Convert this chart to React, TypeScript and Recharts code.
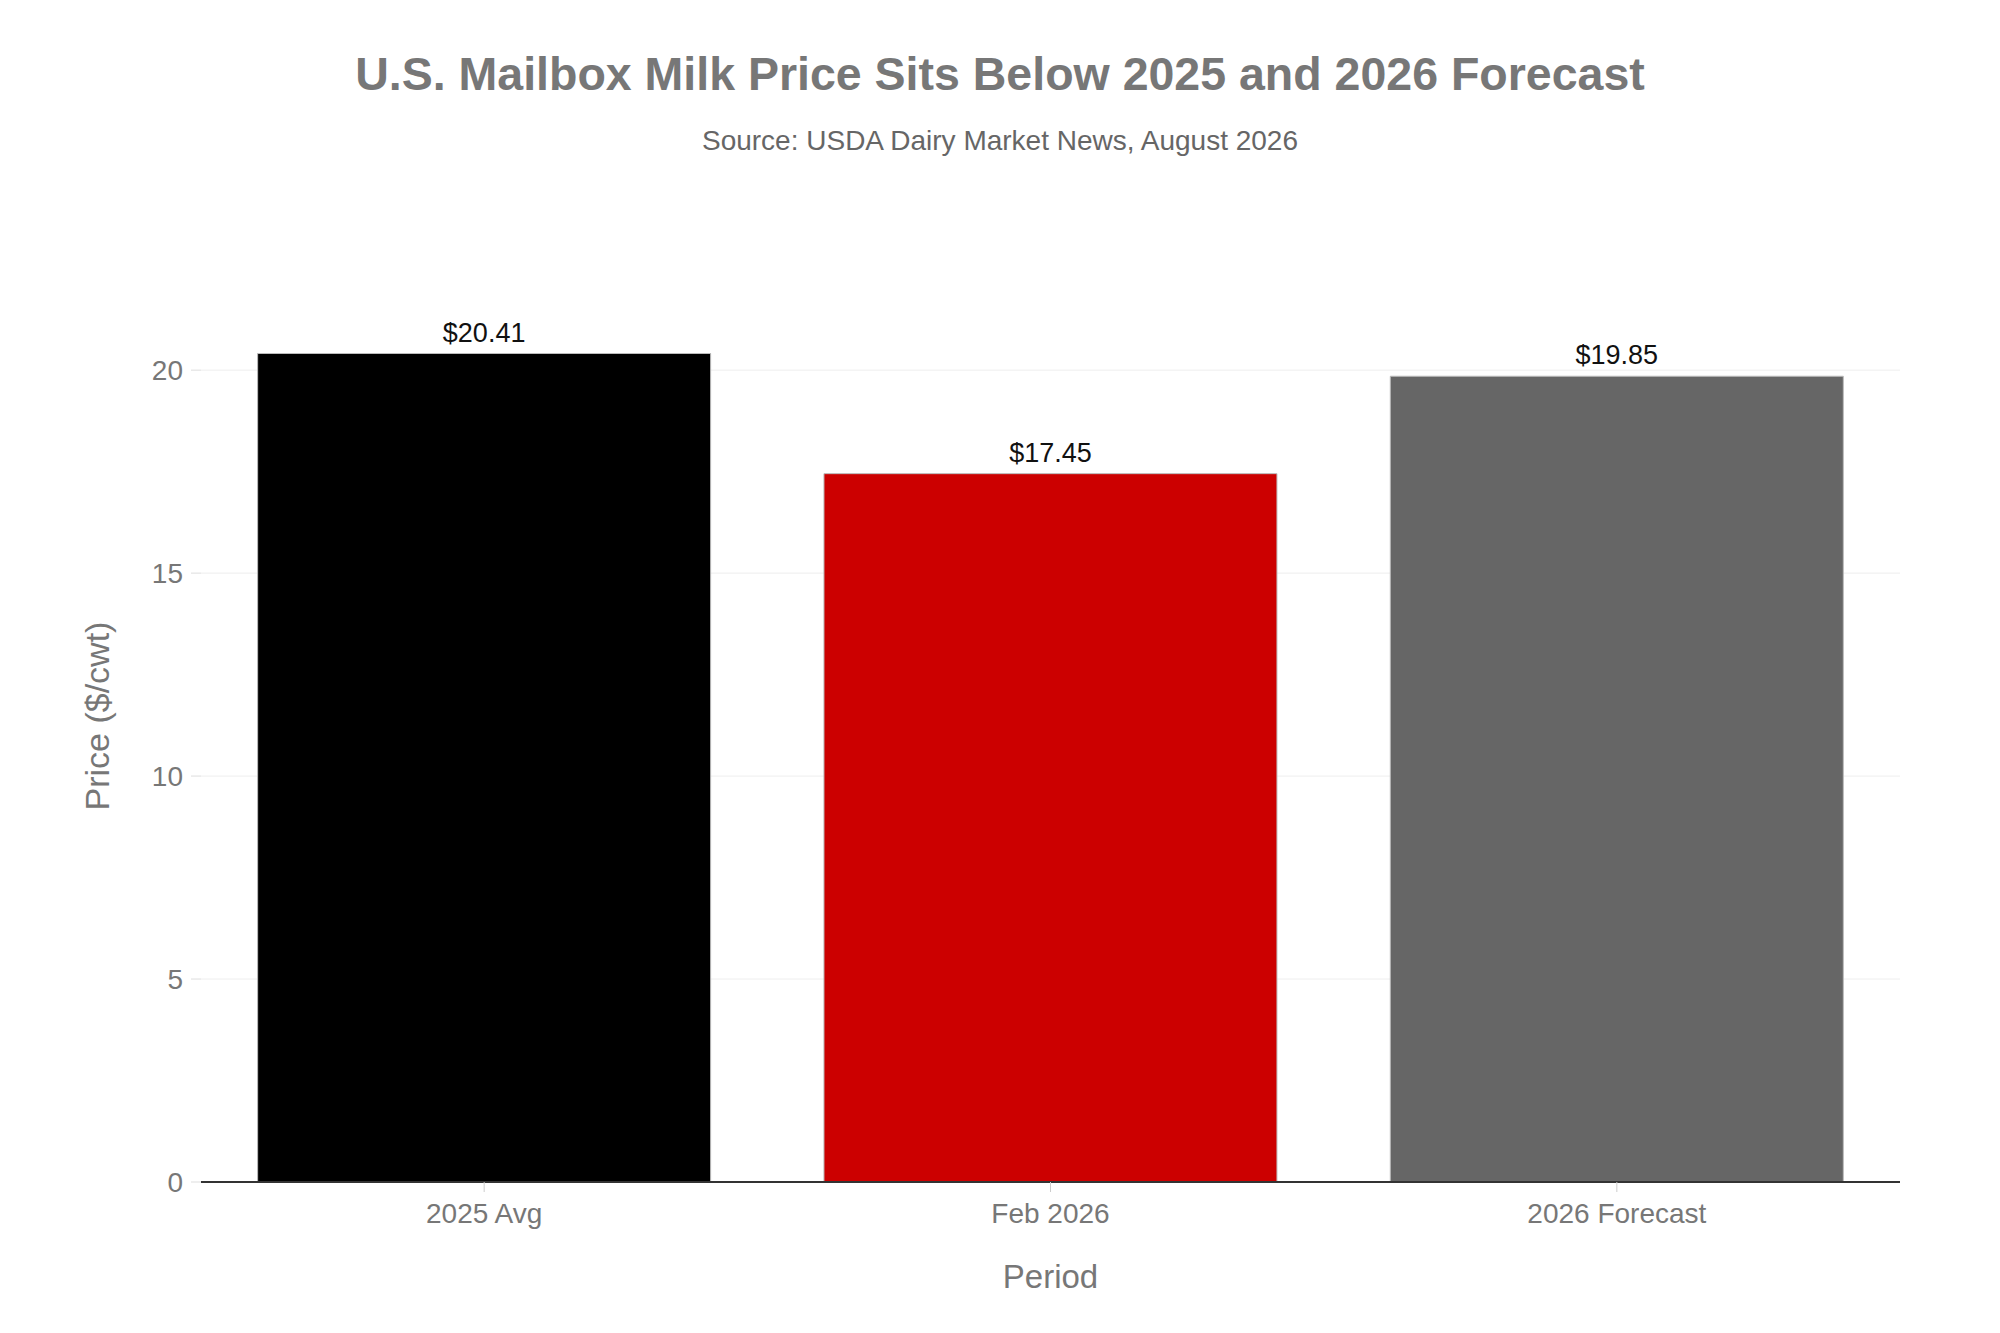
import React from 'react'
import { BarChart, Bar, XAxis, YAxis, CartesianGrid, Cell, LabelList } from 'recharts'

// values
const periods = ['2025 Avg', 'Feb 2026', '2026 Forecast']
const prices = [20.41, 17.45, 19.85]
const barColors = ['#000000', '#cc0000', '#666666']
const yTicks = [0, 5, 10, 15, 20]

const FONT = '"Liberation Sans", Arial, Helvetica, sans-serif'
const W = 2000
const H = 1333

const rows = periods.map((p, i) => ({ period: p, price: prices[i] }))

export default function App() {
  return (
    <div style={{ position: 'absolute', left: 0, top: 0, width: W, height: H, background: '#fff', fontFamily: FONT }}>
      <BarChart
        width={W}
        height={H}
        data={rows}
        margin={{ top: 250, right: 100, bottom: 0, left: 0 }}
        barCategoryGap="10%"
      >
        <CartesianGrid vertical={false} horizontalValues={yTicks} stroke="#eeeeee" strokeWidth={1} />
        <XAxis
          dataKey="period"
          height={151}
          tick={{ fontSize: 28, fill: '#777777', fontFamily: FONT }}
          tickSize={10}
          tickMargin={11}
          tickLine={{ stroke: '#cccccc', strokeWidth: 1 }}
          axisLine={{ stroke: '#333333', strokeWidth: 2 }}
          label={{ value: 'Period', position: 'insideTop', offset: 83, fontSize: 33, fill: '#777777', fontFamily: FONT }}
        />
        <YAxis
          width={201}
          domain={[0, 22.96]}
          ticks={yTicks}
          allowDataOverflow
          tick={{ fontSize: 28, fill: '#777777', fontFamily: FONT }}
          tickSize={10}
          tickMargin={8}
          tickLine={{ stroke: '#dddddd', strokeWidth: 1 }}
          axisLine={false}
          label={{ value: 'Price ($/cwt)', angle: -90, position: 'center', dx: -4, fontSize: 34, fill: '#777777', fontFamily: FONT }}
        />
        <Bar dataKey="price" isAnimationActive={false} stroke="#bbbbbb" strokeWidth={1}>
          {rows.map((r, i) => (
            <Cell key={r.period} fill={barColors[i]} />
          ))}
          <LabelList
            dataKey="price"
            position="top"
            offset={12}
            formatter={(v: number) => `$${v.toFixed(2)}`}
            style={{ fontSize: 27, fill: '#111111', fontFamily: FONT }}
          />
        </Bar>
      </BarChart>
      <svg width={W} height={200} style={{ position: 'absolute', left: 0, top: 0, pointerEvents: 'none' }}>
        <text x={1000} y={90} textAnchor="middle" fontSize={46.5} fontWeight="bold" fill="#777777" fontFamily={FONT}>
          U.S. Mailbox Milk Price Sits Below 2025 and 2026 Forecast
        </text>
        <text x={1000} y={150} textAnchor="middle" fontSize={28} fill="#666666" fontFamily={FONT}>
          Source: USDA Dairy Market News, August 2026
        </text>
      </svg>
    </div>
  )
}
